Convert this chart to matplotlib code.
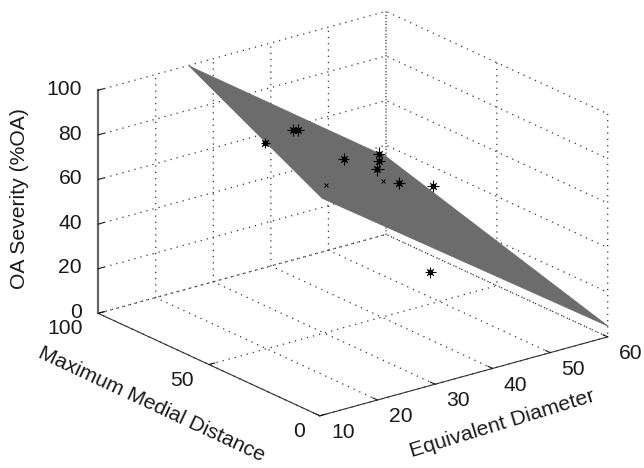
import matplotlib
matplotlib.use('Agg')
import matplotlib.pyplot as plt
from mpl_toolkits.mplot3d.art3d import Poly3DCollection

plt.rcParams['font.family'] = ['Liberation Sans', 'DejaVu Sans']

# regression plane, clipped at 100 %OA
plane_x = [25.7, 60.0, 60.0, 10.3]
plane_y = [100.0, 100.0, 0.0, 0.0]
plane_z = [100.0, 35.0, 5.0, 97.5]

# measured samples
diam = [14.0, 33.9, 36.1, 39.7, 58.4, 54.3, 48.5, 50.4, 55.0, 40.0]
medial = [35.0, 74.2, 77.8, 66.4, 99.1, 88.4, 74.0, 69.2, 65.7, 28.0]
severity = [103.4, 77.2, 73.9, 63.7, 37.8, 42.4, 49.2, 44.1, 40.9, 30.2]
sizes = [45, 80, 80, 70, 80, 80, 80, 80, 80, 70]

# samples mostly hidden behind the plane
hidden_diam = [16.4, 44.6]
hidden_medial = [13.9, 61.2]
hidden_severity = [92.5, 52.8]

x_ticks = [10, 20, 30, 40, 50, 60]
y_ticks = [0, 50, 100]
z_ticks = [0, 20, 40, 60, 80, 100]

fig = plt.figure(figsize=(6.44, 4.68), dpi=100)
ax = fig.add_axes([70.5/644, -28/468, 550/644, 550/468], projection='3d',
                  computed_zorder=False)
ax.set_proj_type('ortho')
ax.view_init(elev=20.85, azim=-127.6)
ax.set_box_aspect((1, 1, 0.657))
ax.patch.set_alpha(0)

poly = Poly3DCollection([list(zip(plane_x, plane_y, plane_z))],
                        facecolor='#6c6c6c', edgecolor='#6c6c6c', linewidth=0.5, zorder=2)
ax.add_collection3d(poly)

ax.scatter(diam, medial, severity, marker='+', s=sizes, c='black',
           linewidths=0.8, depthshade=False, zorder=3)
ax.scatter(diam, medial, severity, marker='x', s=22, c='black',
           linewidths=0.9, depthshade=False, zorder=3)
ax.scatter(diam, medial, severity, marker='o', s=16, c='black',
           linewidths=0, depthshade=False, zorder=3)
ax.scatter(hidden_diam, hidden_medial, hidden_severity, marker='x', s=8, c='black',
           linewidths=0.7, depthshade=False, zorder=3)

ax.set_xlim(10, 60)
ax.set_ylim(0, 100)
ax.set_zlim(0, 100)
ax.set_xticks(x_ticks)
ax.set_yticks(y_ticks)
ax.set_zticks(z_ticks)
ax.tick_params(axis='both', labelsize=15.2, colors='#1a1a1a', width=0.9)
ax.tick_params(axis='x', pad=2.5)
ax.tick_params(axis='y', pad=2.6)
ax.tick_params(axis='z', pad=-1.5)

for lbl in ax.get_xticklabels():
    lbl.set(ha='left', va='center')
for lbl in ax.get_yticklabels():
    lbl.set(ha='right', va='center')
for lbl in ax.get_zticklabels():
    lbl.set(ha='right', va='center')

for axis in (ax.xaxis, ax.yaxis, ax.zaxis):
    axis.set_pane_color((1, 1, 1, 0))
    axis.pane.set_edgecolor((1, 1, 1, 0))
    axis._axinfo['grid'].update(color='#333333', linestyle=(0, (1, 4)), linewidth=0.9)
    axis._axinfo['tick'].update(inward_factor=0.0, outward_factor=0.25)

ax.xaxis.line.set_color('#333333')
ax.yaxis.line.set_color('#333333')
ax.zaxis.line.set_color('#666666')
ax.zaxis.line.set_linewidth(1.6)

fig.text(502/644, 1-424/468, 'Equivalent Diameter', fontsize=15.4, rotation=17,
         ha='center', va='center', color='#1a1a1a')
fig.text(152/644, 1-404/468, 'Maximum Medial Distance', fontsize=15.2, rotation=-25,
         ha='center', va='center', color='#1a1a1a')
fig.text(20/644, 1-199/468, 'OA Severity (%OA)', fontsize=15.2, rotation=90,
         ha='center', va='center', color='#1a1a1a')

plt.savefig('out.png', dpi=100)
